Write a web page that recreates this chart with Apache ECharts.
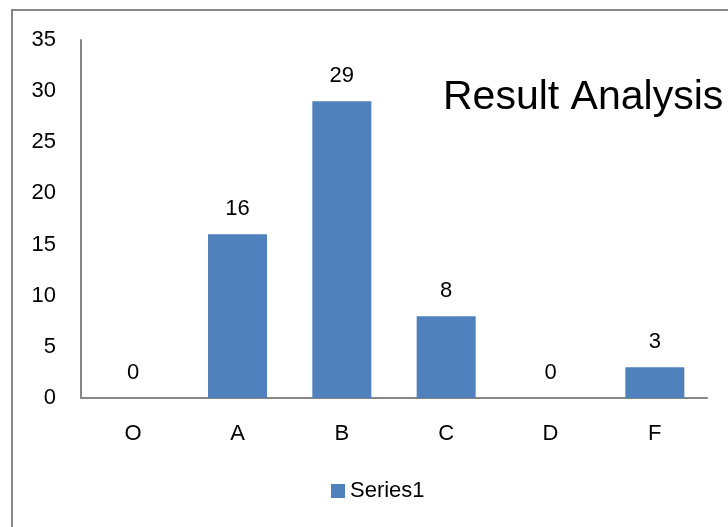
<!DOCTYPE html>
<html>
<head>
<meta charset="utf-8">
<script src="https://cdn.jsdelivr.net/npm/echarts@6/dist/echarts.min.js"></script>
<style>
html,body{margin:0;padding:0;background:#fff;overflow:hidden;}
#frame{position:absolute;left:11px;top:9px;width:800px;height:600px;border-top:2px solid #878787;border-left:2px solid #878787;}
#chart{position:absolute;left:0;top:0;width:728px;height:527px;}
</style>
</head>
<body>
<div id="frame"></div>
<div id="chart"></div>
<script>
const categories = ['O', 'A', 'B', 'C', 'D', 'F'];
const series1 = [0, 16, 29, 8, 0, 3];
const seriesName = 'Series1';
const chartTitle = 'Result Analysis';

const FONT = '"Liberation Sans", Arial, sans-serif';
const chart = echarts.init(document.getElementById('chart'));
chart.setOption({
  animation: false,
  backgroundColor: 'transparent',
  title: {
    text: chartTitle,
    left: 438,
    top: 72,
    textStyle: { fontFamily: FONT, fontSize: 41, fontWeight: 'normal', color: '#000' }
  },
  legend: {
    data: [seriesName],
    left: 326,
    top: 475,
    icon: 'rect',
    itemWidth: 14,
    itemHeight: 14,
    textStyle: { fontFamily: FONT, fontSize: 22, color: '#000' }
  },
  grid: { left: 81, right: 21, top: 40, bottom: 129, containLabel: false },
  xAxis: {
    type: 'category',
    data: categories,
    axisLine: { lineStyle: { color: '#868686', width: 2 } },
    axisTick: { show: false },
    axisLabel: { fontFamily: FONT, fontSize: 22, color: '#000', margin: 25 }
  },
  yAxis: {
    type: 'value',
    min: 0,
    max: 35,
    interval: 5,
    axisLine: { show: true, lineStyle: { color: '#868686', width: 2 } },
    axisTick: { show: false },
    splitLine: { show: false },
    axisLabel: { fontFamily: FONT, fontSize: 22, color: '#000', margin: 25 }
  },
  series: [{
    name: seriesName,
    type: 'bar',
    data: series1,
    barWidth: 59,
    itemStyle: { color: '#4F81BD' },
    label: {
      show: true,
      position: 'top',
      distance: 14,
      fontFamily: FONT,
      fontSize: 22,
      color: '#000'
    }
  }]
});
</script>
</body>
</html>
